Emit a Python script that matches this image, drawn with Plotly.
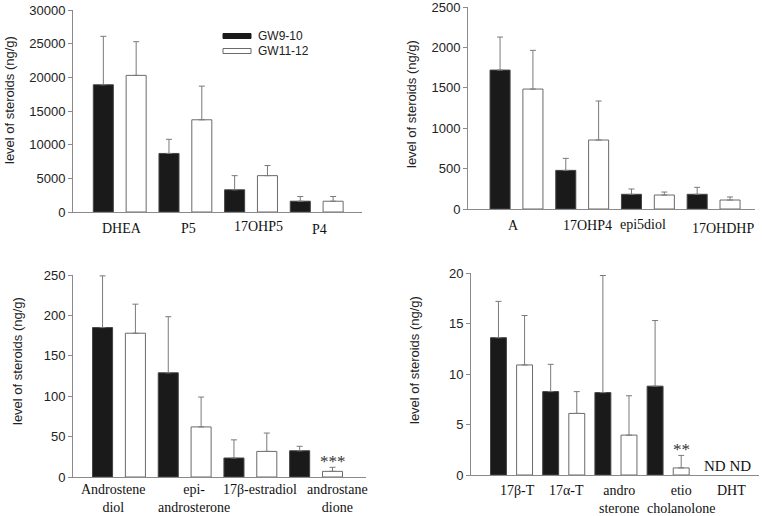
import plotly.graph_objects as go

W, H = 762, 516

# ---------------- data ----------------
series_names = ["GW9-10", "GW11-12"]

p1_cats = ["DHEA", "P5", "17OHP5", "P4"]
p1_gw910 = [18900, 8700, 3300, 1600]
p1_gw910_err = [7200, 2100, 2100, 700]
p1_gw1112 = [20300, 13700, 5400, 1600]
p1_gw1112_err = [5000, 5000, 1500, 700]

p2_cats = ["A", "17OHP4", "epi5diol", "17OHDHP"]
p2_gw910 = [1720, 478, 182, 182]
p2_gw910_err = [409, 149, 66, 86]
p2_gw1112 = [1485, 854, 173, 111]
p2_gw1112_err = [479, 483, 37, 38]

p3_cats = ["Androstene<br>diol", "epi-<br>androsterone", "17β-estradiol", "androstane<br>dione"]
p3_gw910 = [185, 129, 23.5, 32.5]
p3_gw910_err = [64, 69.5, 22.5, 5.5]
p3_gw1112 = [178, 62, 31.7, 7]
p3_gw1112_err = [36, 37, 22.7, 5]

p4_cats = ["17β-T", "17α-T", "andro<br>sterone", "etio<br>cholanolone", "DHT"]
p4_gw910 = [13.6, 8.26, 8.16, 8.8, None]
p4_gw910_err = [3.6, 2.7, 11.6, 6.5, None]
p4_gw1112 = [10.9, 6.1, 3.95, 0.7, None]
p4_gw1112_err = [4.9, 2.16, 3.9, 1.24, None]

p3_sig = ["", "", "", "***"]
p4_sig = ["", "", "", "**", ""]
p4_nd = ["", "", "", "", "ND ND"]

y_title = "level of steroids (ng/g)"

# ---------------- layout helpers ----------------
def px_x(p):
    return p / W

def px_y(p):
    return 1 - p / H

SANS = "Liberation Sans, Arial, sans-serif"
SERIF = "Liberation Serif, Times New Roman, serif"
AXIS_COL = "#8a8a8a"
ERR_COL = "#7a7a7a"

panels = [
    dict(cats=p1_cats, a=p1_gw910, ae=p1_gw910_err, b=p1_gw1112, be=p1_gw1112_err,
         dom_x=(73, 362), dom_y=(10, 212), xr=(-0.712, 3.69), yr=(0, 30000), dt=5000,
         lab_x=[0.03, 1.04, 2.11, 3.05], lab_top=[219, 219, 217, 220],
         title_xy=(9, 100), sig=None, nd=None),
    dict(cats=p2_cats, a=p2_gw910, ae=p2_gw910_err, b=p2_gw1112, be=p2_gw1112_err,
         dom_x=(468, 755), dom_y=(7, 209), xr=(-0.738, 3.63), yr=(0, 2500), dt=500,
         lab_x=[-0.04, 1.08, 1.93, 3.14], lab_top=[216, 216, 215, 219],
         title_xy=(411, 104), sig=None, nd=None),
    dict(cats=p3_cats, a=p3_gw910, ae=p3_gw910_err, b=p3_gw1112, be=p3_gw1112_err,
         dom_x=(73, 366), dom_y=(275, 477), xr=(-0.70, 3.76), yr=(0, 250), dt=50,
         lab_x=[-0.08, 1.14, 2.15, 3.33], lab_top=[480, 480, 480, 480],
         title_xy=(17, 361), sig=p3_sig, nd=None),
    dict(cats=p4_cats, a=p4_gw910, ae=p4_gw910_err, b=p4_gw1112, be=p4_gw1112_err,
         dom_x=(471, 759), dom_y=(273, 475), xr=(-0.776, 4.74), yr=(0, 20), dt=5,
         lab_x=[0.12, 1.06, 2.06, 3.25, 4.22], lab_top=[481, 481, 481, 481, 481],
         title_xy=(414, 360), sig=p4_sig, nd=p4_nd),
]

fig = go.Figure()
annotations = []
shapes = []

for i, p in enumerate(panels):
    n = i + 1
    xa = "x" if n == 1 else f"x{n}"
    ya = "y" if n == 1 else f"y{n}"
    xs = list(range(len(p["cats"])))
    fig.add_trace(go.Bar(
        x=xs, y=p["a"], name=series_names[0], xaxis=xa, yaxis=ya,
        marker=dict(color="#1a1a1a", line=dict(color="#444444", width=1)),
        error_y=dict(type="data", array=p["ae"], symmetric=False,
                     arrayminus=[0] * len(xs), color=ERR_COL, thickness=1, width=3),
        showlegend=False, offsetgroup="a", hoverinfo="skip",
    ))
    fig.add_trace(go.Bar(
        x=xs, y=p["b"], name=series_names[1], xaxis=xa, yaxis=ya,
        marker=dict(color="#ffffff", line=dict(color="#6a6a6a", width=1)),
        error_y=dict(type="data", array=p["be"], symmetric=False,
                     arrayminus=[0] * len(xs), color=ERR_COL, thickness=1, width=3),
        showlegend=False, offsetgroup="b", hoverinfo="skip",
    ))

    ymax = p["yr"][1] * 1.0004
    xkey = "xaxis" if n == 1 else f"xaxis{n}"
    ykey = "yaxis" if n == 1 else f"yaxis{n}"
    fig.update_layout(**{
        xkey: dict(domain=[px_x(p["dom_x"][0]), px_x(p["dom_x"][1])], range=list(p["xr"]),
                   anchor=ya, showticklabels=False, ticks="", showgrid=False,
                   zeroline=False, showline=True, linecolor=AXIS_COL, linewidth=1,
                   automargin=False, fixedrange=True),
        ykey: dict(domain=[px_y(p["dom_y"][1]), px_y(p["dom_y"][0])], range=[0, ymax],
                   anchor=xa, dtick=p["dt"], tick0=0, ticks="outside", ticklen=4,
                   tickcolor=AXIS_COL, showgrid=False, zeroline=False, showline=True,
                   linecolor=AXIS_COL, linewidth=1, tickformat="d", automargin=False,
                   fixedrange=True, ticklabeloverflow="allow",
                   tickfont=dict(family=SANS, size=13, color="#222222")),
    })

    # category labels
    for j, lab in enumerate(p["cats"]):
        annotations.append(dict(
            x=p["lab_x"][j], xref=xa, y=px_y(p["lab_top"][j]), yref="paper",
            text=lab, showarrow=False, xanchor="center", yanchor="top",
            font=dict(family=SERIF, size=14, color="#111111"), align="center",
        ))

    # y axis title
    tx, ty = p["title_xy"]
    annotations.append(dict(
        x=px_x(tx), y=px_y(ty), xref="paper", yref="paper", text=y_title,
        textangle=-90, showarrow=False, xanchor="center", yanchor="middle",
        font=dict(family=SANS, size=13, color="#222222"),
    ))

    # significance stars
    if p["sig"]:
        for j, s in enumerate(p["sig"]):
            if s:
                top = p["b"][j] + p["be"][j]
                annotations.append(dict(
                    x=j + 0.25, xref=xa, y=top, yref=ya, text=s, showarrow=False,
                    xanchor="center", yanchor="bottom", yshift=-6,
                    font=dict(family=SERIF, size=17, color="#333333"),
                ))
    if p["nd"]:
        for j, s in enumerate(p["nd"]):
            if s:
                annotations.append(dict(
                    x=j + 0.13, xref=xa, y=0, yref=ya, text=s, showarrow=False,
                    xanchor="center", yanchor="bottom", yshift=-1,
                    font=dict(family=SERIF, size=15, color="#111111"),
                ))

# legend (drawn manually in the first panel)
leg_rows = [(36, "#1a1a1a", "#1a1a1a"), (51, "#ffffff", "#6a6a6a")]
for (cy, fill, line), name in zip(leg_rows, series_names):
    shapes.append(dict(type="rect", xref="paper", yref="paper",
                       x0=px_x(223), x1=px_x(251), y0=px_y(cy + 2.5), y1=px_y(cy - 2.5),
                       fillcolor=fill, line=dict(color=line, width=1)))
    annotations.append(dict(x=px_x(256), y=px_y(cy), xref="paper", yref="paper",
                            text=name, showarrow=False, xanchor="left", yanchor="middle",
                            font=dict(family=SANS, size=12, color="#222222")))

fig.update_layout(
    template="none",
    width=W, height=H, margin=dict(l=0, r=0, t=0, b=0, pad=0),
    paper_bgcolor="white", plot_bgcolor="white",
    barmode="group", bargap=0.0, bargroupgap=0.39,
    annotations=annotations, shapes=shapes, showlegend=False,
    hovermode=False,
)

fig.write_html("out.html", config={"displayModeBar": False, "staticPlot": True},
               post_script="document.body.style.margin='0px';")
